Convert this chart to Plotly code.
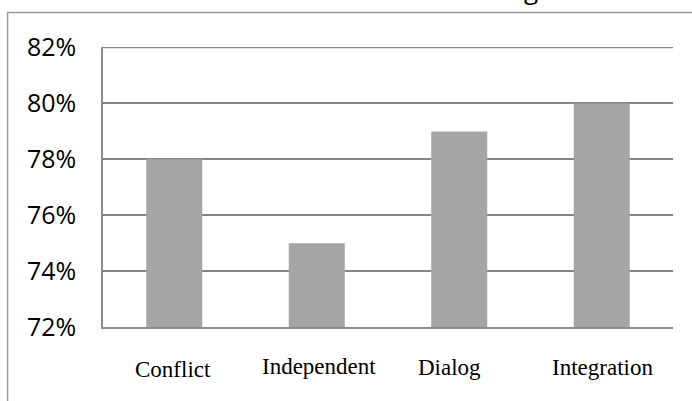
import plotly.graph_objects as go

categories = ["Conflict", "Independent", "Dialog", "Integration"]
values = [0.78, 0.75, 0.79, 0.80]
y_ticks = [0.72, 0.74, 0.76, 0.78, 0.80, 0.82]
y_tick_labels = ["72%", "74%", "76%", "78%", "80%", "82%"]

# style: per-label nudges of the category captions (pixels)
label_xshift = [-1, 2, -10, 1]
label_yshift = [-2, 1, 0, 0]

fig = go.Figure()
fig.add_trace(go.Bar(x=categories, y=values, marker=dict(color="#a5a5a5", line=dict(width=0)),
                     hoverinfo="skip"))

for c, dx, dy in zip(categories, label_xshift, label_yshift):
    fig.add_annotation(x=c, xref="x", y=-0.145, yref="paper", text=c, showarrow=False,
                       xshift=dx, yshift=dy, yanchor="middle",
                       font=dict(family="Liberation Serif", size=23, color="#000"))

# partially visible title glyph at the very top (cropped like the reference)
fig.add_annotation(x=0.742, xref="paper", y=1.166, yref="paper", text="g", showarrow=False,
                   yanchor="middle", yshift=12, xshift=14,
                   font=dict(family="Open Sans", size=26, color="#000"))

# outer chart frame (cropped)
fig.add_shape(type="rect", xref="paper", yref="paper", x0=-0.1674, x1=1.5, y0=-1, y1=1.1235,
              line=dict(color="#9a9a9a", width=1.5), layer="below")

# top gridline at the upper end of the value range
fig.add_shape(type="line", xref="paper", yref="y", x0=0, x1=1, y0=y_ticks[-1], y1=y_ticks[-1],
              line=dict(color="#878787", width=1.5), layer="below")

fig.update_layout(
    width=692, height=401,
    margin=dict(l=103, r=19, t=47, b=74),
    paper_bgcolor="white", plot_bgcolor="white",
    bargap=0.607,
    showlegend=False,
    xaxis=dict(showticklabels=False, showgrid=False, zeroline=False,
               showline=True, linecolor="#8c8c8c", linewidth=1.5),
    yaxis=dict(range=[0.72, 0.8202], tickvals=y_ticks, ticktext=y_tick_labels,
               showgrid=True, gridcolor="#878787", gridwidth=1.5, zeroline=False,
               showline=True, linecolor="#8c8c8c", linewidth=1.5,
               ticklabelstandoff=20,
               tickfont=dict(family="Open Sans", size=25, color="#000")),
)

fig.write_html("out.html")
